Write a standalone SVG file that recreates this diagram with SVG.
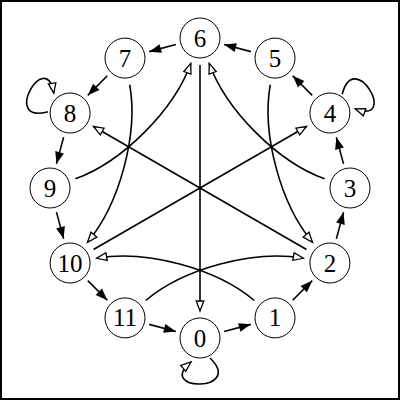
<svg xmlns="http://www.w3.org/2000/svg" width="400" height="400" viewBox="0 0 400 400">
<style>
.edge{fill:none;stroke:#000;stroke-width:1.6}
.ring{marker-end:url(#solid)}
.chord{marker-end:url(#open)}
.node circle{fill:#fff;stroke:#000;stroke-width:1}
.node text{font-family:"Liberation Serif","DejaVu Serif",serif;font-size:25px;text-anchor:middle;fill:#000}
</style>
<defs>
<marker id="solid" markerUnits="userSpaceOnUse" markerWidth="13" markerHeight="10" refX="12" refY="4.5" orient="auto" overflow="visible">
<path d="M0,0 L12,4.5 L0,9 Z" fill="#000"/>
</marker>
<marker id="open" markerUnits="userSpaceOnUse" markerWidth="12" markerHeight="10" refX="10.5" refY="4" orient="auto" overflow="visible">
<path d="M0.5,0.2 L10.5,4 L0.5,7.8 Z" fill="#fff" stroke="#000" stroke-width="1.3" stroke-linejoin="miter"/>
</marker>
</defs>
<rect x="1" y="1" width="398" height="398" fill="#fff" stroke="#000" stroke-width="2"/>
<g id="connectors">
<path class="edge ring" d="M224.15,331.53 L250.85,324.37"/>
<path class="edge ring" d="M292.68,300.22 L312.22,280.68"/>
<path class="edge ring" d="M336.37,238.85 L343.53,212.15"/>
<path class="edge ring" d="M343.53,163.85 L336.37,137.15"/>
<path class="edge ring" d="M312.22,95.32 L292.68,75.78"/>
<path class="edge ring" d="M250.85,51.63 L224.15,44.47"/>
<path class="edge ring" d="M175.85,44.47 L149.15,51.63"/>
<path class="edge ring" d="M107.32,75.78 L87.78,95.32"/>
<path class="edge ring" d="M63.63,137.15 L56.47,163.85"/>
<path class="edge ring" d="M56.47,212.15 L63.63,238.85"/>
<path class="edge ring" d="M87.78,280.68 L107.32,300.22"/>
<path class="edge ring" d="M149.15,324.37 L175.85,331.53"/>
<path class="edge chord" d="M200,65 L200,311"/>
<path class="edge chord" d="M306.5,249.5 L93.5,126.5"/>
<path class="edge chord" d="M93.5,249.5 L306.5,126.5"/>
<path class="edge chord" d="M254.3,300.5 C216.0,268.3 145.9,249.6 96.7,258.3"/>
<path class="edge chord" d="M145.7,300.5 C184.0,268.3 254.1,249.6 303.3,258.3"/>
<path class="edge chord" d="M270.3,84.7 C261.5,134.0 280.4,204.1 312.5,242.3"/>
<path class="edge chord" d="M324.6,178.8 C277.5,161.7 226.3,110.4 209.2,63.4"/>
<path class="edge chord" d="M75.4,178.8 C122.5,161.7 173.7,110.4 190.8,63.4"/>
<path class="edge chord" d="M129.7,84.7 C138.5,134.0 119.6,204.1 87.5,242.3"/>
<path class="edge chord" d="M210,358 C245,392 155,392 191,362"/>
<path class="edge chord" d="M342.2,94.3 C354.2,47.0 399.2,125.0 355.2,108.8"/>
<path class="edge chord" d="M47.8,111.7 C0.8,125.0 45.8,47.0 53.8,93.2"/>
</g>
<g id="node-0" class="node"><circle cx="200" cy="338" r="20"/><text x="200" y="346.5">0</text></g>
<g id="node-1" class="node"><circle cx="275" cy="317.9" r="20"/><text x="275" y="326.4">1</text></g>
<g id="node-2" class="node"><circle cx="329.9" cy="263" r="20"/><text x="329.9" y="271.5">2</text></g>
<g id="node-3" class="node"><circle cx="350" cy="188" r="20"/><text x="350" y="196.5">3</text></g>
<g id="node-4" class="node"><circle cx="329.9" cy="113" r="20"/><text x="329.9" y="121.5">4</text></g>
<g id="node-5" class="node"><circle cx="275" cy="58.1" r="20"/><text x="275" y="66.6">5</text></g>
<g id="node-6" class="node"><circle cx="200" cy="38" r="20"/><text x="200" y="46.5">6</text></g>
<g id="node-7" class="node"><circle cx="125" cy="58.1" r="20"/><text x="125" y="66.6">7</text></g>
<g id="node-8" class="node"><circle cx="70.1" cy="113" r="20"/><text x="70.1" y="121.5">8</text></g>
<g id="node-9" class="node"><circle cx="50" cy="188" r="20"/><text x="50" y="196.5">9</text></g>
<g id="node-10" class="node"><circle cx="70.1" cy="263" r="20"/><text x="70.1" y="271.5">10</text></g>
<g id="node-11" class="node"><circle cx="125" cy="317.9" r="20"/><text x="125" y="326.4">11</text></g>
</svg>
